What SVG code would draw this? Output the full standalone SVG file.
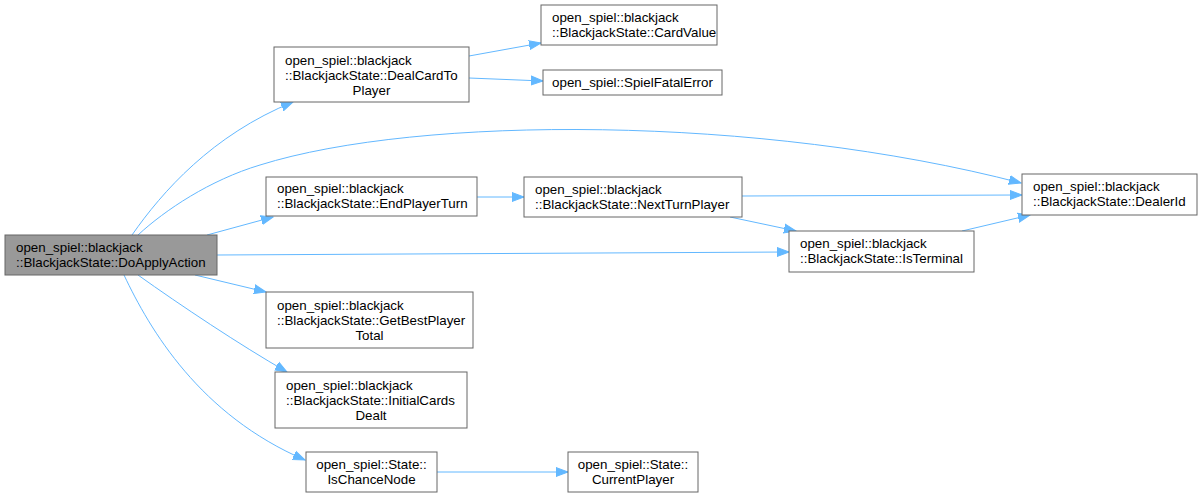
<svg xmlns="http://www.w3.org/2000/svg" width="1202" height="498" viewBox="0 0 1202 498">
<style>
.n rect{fill:#ffffff;stroke:#666666;stroke-width:1}
.n.main rect{fill:#999999}
.n text{font-family:"Liberation Sans",Arial,Helvetica,sans-serif;font-size:13.33px;fill:#000000}
.s{text-anchor:start}
.m{text-anchor:middle}
#edges path{fill:none;stroke:#63b8ff;stroke-width:1;marker-end:url(#ah)}
</style>
<defs>
<marker id="ah" markerUnits="userSpaceOnUse" markerWidth="14" markerHeight="11" refX="12" refY="5" orient="auto" viewBox="0 0 14 10">
<path d="M0,0.5 L12,5 L0,9.5 z" fill="#63b8ff" stroke="#63b8ff" stroke-width="1"/>
</marker>
</defs>
<rect width="1202" height="498" fill="#ffffff"/>
<g id="edges">
<path d="M132,235 C162,192 212,135 293,102"/>
<path d="M138,235 C165,210 210,180 260,165 C420,115 760,115 1021,183"/>
<path d="M207,235 L273,217"/>
<path d="M217,255 L789,252"/>
<path d="M195,275 L266,292"/>
<path d="M138,275 C180,305 240,345 287,372"/>
<path d="M124,275 C150,330 200,415 305,460"/>
<path d="M469,56 L541,43"/>
<path d="M469,78 L543,81"/>
<path d="M477,197 L524,197"/>
<path d="M742,196 L1022,195"/>
<path d="M730,217 L796,231"/>
<path d="M962,231 L1030,215"/>
<path d="M437,472 L568,472"/>
</g>
<g id="node-DoApplyAction" class="n main">
<rect x="5" y="235" width="212" height="40"/>
<text class="s" x="16" y="252">open_spiel::blackjack</text>
<text class="s" x="16" y="267">::BlackjackState::DoApplyAction</text>
</g>
<g id="node-DealCardToPlayer" class="n">
<rect x="274" y="47" width="195" height="55"/>
<text class="s" x="285" y="65">open_spiel::blackjack</text>
<text class="s" x="285" y="80">::BlackjackState::DealCardTo</text>
<text class="m" x="371.5" y="95">Player</text>
</g>
<g id="node-CardValue" class="n">
<rect x="541" y="5" width="176" height="40"/>
<text class="s" x="552" y="22">open_spiel::blackjack</text>
<text class="s" x="552" y="37">::BlackjackState::CardValue</text>
</g>
<g id="node-SpielFatalError" class="n">
<rect x="543" y="70" width="179" height="25"/>
<text class="m" x="632.5" y="87">open_spiel::SpielFatalError</text>
</g>
<g id="node-EndPlayerTurn" class="n">
<rect x="266" y="177" width="211" height="39"/>
<text class="s" x="277" y="193">open_spiel::blackjack</text>
<text class="s" x="277" y="208">::BlackjackState::EndPlayerTurn</text>
</g>
<g id="node-NextTurnPlayer" class="n">
<rect x="524" y="177" width="218" height="40"/>
<text class="s" x="535" y="194">open_spiel::blackjack</text>
<text class="s" x="535" y="209">::BlackjackState::NextTurnPlayer</text>
</g>
<g id="node-DealerId" class="n">
<rect x="1022" y="174" width="175" height="41"/>
<text class="s" x="1033" y="191">open_spiel::blackjack</text>
<text class="s" x="1033" y="206">::BlackjackState::DealerId</text>
</g>
<g id="node-IsTerminal" class="n">
<rect x="789" y="231" width="185" height="41"/>
<text class="s" x="800" y="248">open_spiel::blackjack</text>
<text class="s" x="800" y="263">::BlackjackState::IsTerminal</text>
</g>
<g id="node-GetBestPlayerTotal" class="n">
<rect x="266" y="292" width="207" height="56"/>
<text class="s" x="277" y="310">open_spiel::blackjack</text>
<text class="s" x="277" y="325">::BlackjackState::GetBestPlayer</text>
<text class="m" x="369.5" y="340">Total</text>
</g>
<g id="node-InitialCardsDealt" class="n">
<rect x="275" y="372" width="192" height="56"/>
<text class="s" x="286" y="390">open_spiel::blackjack</text>
<text class="s" x="286" y="405">::BlackjackState::InitialCards</text>
<text class="m" x="371" y="420">Dealt</text>
</g>
<g id="node-IsChanceNode" class="n">
<rect x="306" y="452" width="131" height="40"/>
<text class="m" x="371.5" y="469">open_spiel::State::</text>
<text class="m" x="371.5" y="484">IsChanceNode</text>
</g>
<g id="node-CurrentPlayer" class="n">
<rect x="568" y="452" width="130" height="40"/>
<text class="m" x="633" y="469">open_spiel::State::</text>
<text class="m" x="633" y="484">CurrentPlayer</text>
</g>
</svg>
